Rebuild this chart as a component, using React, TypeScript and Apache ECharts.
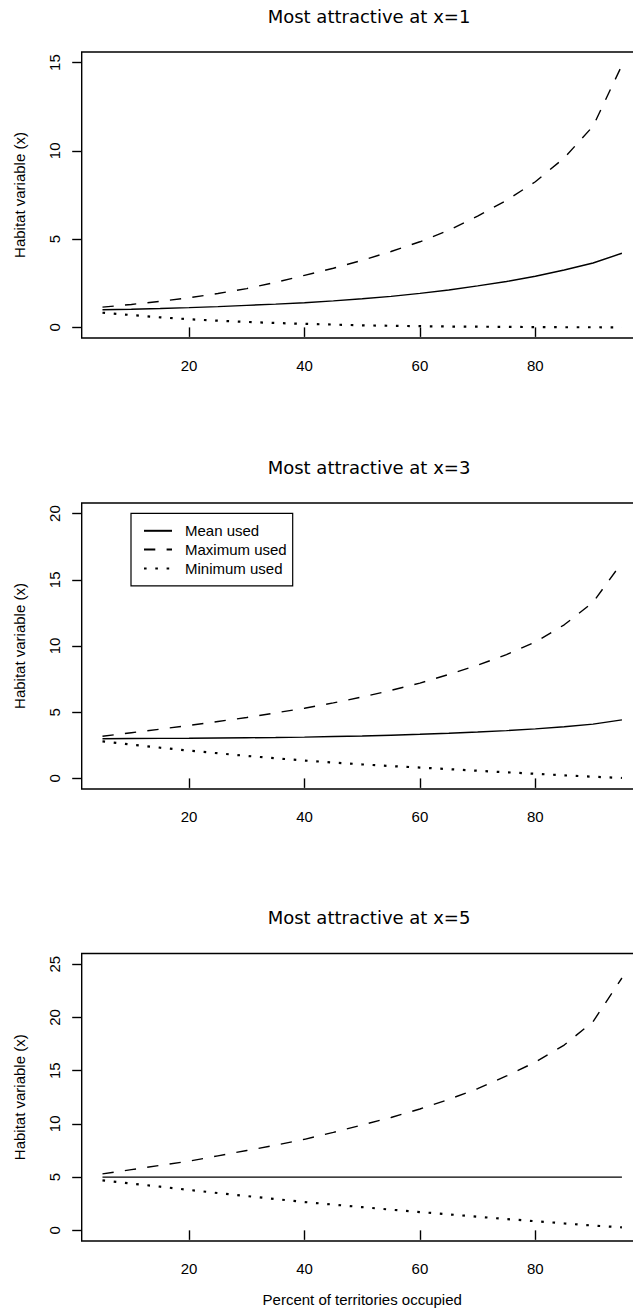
import React, { useEffect, useRef } from "react";
import * as echarts from "echarts";

// Percent of territories occupied (x values)
const percent = [5, 10, 15, 20, 25, 30, 35, 40, 45, 50, 55, 60, 65, 70, 75, 80, 85, 90, 95];

const titles = ["Most attractive at x=1", "Most attractive at x=3", "Most attractive at x=5"];
const seriesNames = ["Mean used", "Maximum used", "Minimum used"];

const xTicks = [20, 40, 60, 80];
const yTicks1 = [0, 5, 10, 15];
const yTicks2 = [0, 5, 10, 15, 20];
const yTicks3 = [0, 5, 10, 15, 20, 25];
const yLimits = [15, 20, 25];

// Panel 1: most attractive at x=1
const mean1 = [1.0, 1.03, 1.07, 1.12, 1.18, 1.25, 1.32, 1.4, 1.5, 1.62, 1.76, 1.93, 2.12, 2.35, 2.6, 2.9, 3.25, 3.65, 4.2];
const max1 = [1.15, 1.3, 1.48, 1.68, 1.92, 2.2, 2.55, 2.95, 3.35, 3.8, 4.3, 4.85, 5.5, 6.3, 7.2, 8.25, 9.6, 11.4, 14.85];
const min1 = [0.83, 0.7, 0.57, 0.46, 0.38, 0.31, 0.25, 0.2, 0.16, 0.12, 0.09, 0.07, 0.05, 0.04, 0.03, 0.02, 0.01, 0.01, 0.0];

// Panel 2: most attractive at x=3
const mean2 = [3.0, 3.01, 3.02, 3.03, 3.05, 3.07, 3.09, 3.12, 3.16, 3.2, 3.26, 3.33, 3.41, 3.5, 3.61, 3.74, 3.9, 4.1, 4.42];
const max2 = [3.18, 3.45, 3.72, 4.0, 4.3, 4.6, 4.95, 5.3, 5.7, 6.15, 6.65, 7.2, 7.85, 8.55, 9.35, 10.3, 11.6, 13.3, 16.3];
const min2 = [2.8, 2.55, 2.32, 2.1, 1.9, 1.7, 1.52, 1.35, 1.2, 1.06, 0.93, 0.82, 0.7, 0.58, 0.46, 0.35, 0.23, 0.13, 0.03];

// Panel 3: most attractive at x=5
const mean3 = [5, 5, 5, 5, 5, 5, 5, 5, 5, 5, 5, 5, 5, 5, 5, 5, 5, 5, 5];
const max3 = [5.3, 5.7, 6.1, 6.5, 7.0, 7.5, 8.0, 8.55, 9.2, 9.9, 10.6, 11.4, 12.3, 13.3, 14.5, 15.8, 17.4, 19.6, 23.7];
const min3 = [4.7, 4.4, 4.1, 3.8, 3.5, 3.22, 2.94, 2.66, 2.42, 2.18, 1.94, 1.72, 1.5, 1.28, 1.06, 0.86, 0.65, 0.45, 0.28];

const panels = [
  { mean: mean1, max: max1, min: min1, yTicks: yTicks1 },
  { mean: mean2, max: max2, min: min2, yTicks: yTicks2 },
  { mean: mean3, max: max3, min: min3, yTicks: yTicks3 },
];

const AXIS_FONT = "'Liberation Sans', Arial, sans-serif";
const TITLE_FONT = "'DejaVu Sans', Verdana, sans-serif";

export default function App() {
  const ref = useRef<HTMLDivElement>(null);

  useEffect(() => {
    if (!ref.current) return;
    const chart = echarts.init(ref.current, null, { renderer: "svg" });

    const tops = [52, 503, 953.5];
    const heights = [286, 286, 287.5];
    const gridLeft = 81.7;
    const gridWidth = 561;

    const lineTypes: any[] = ["solid", [11.3, 11.3], [2.6, 8.7]];
    const lineWidths = [1.4, 1.4, 2.2];

    const series: any[] = [];
    panels.forEach((p, i) => {
      [p.mean, p.max, p.min].forEach((arr, k) => {
        series.push({
          type: "line",
          name: seriesNames[k],
          xAxisIndex: i,
          yAxisIndex: i,
          data: percent.map((x, j) => [x, arr[j]]),
          symbol: "none",
          silent: true,
          lineStyle: { color: "#000", width: lineWidths[k], type: lineTypes[k], cap: "butt" },
          itemStyle: { color: "#000" },
        });
      });
    });

    const option: any = {
      animation: false,
      backgroundColor: "#fff",
      grid: tops.map((t, i) => ({
        left: gridLeft,
        top: t,
        width: gridWidth,
        height: heights[i],
        show: true,
        borderColor: "#000",
        borderWidth: 1.4,
        backgroundColor: "transparent",
      })),
      xAxis: tops.map((_, i) => ({
        type: "value",
        gridIndex: i,
        min: 1.4,
        max: 98.6,
        axisLine: { show: false },
        splitLine: { show: false },
        axisTick: {
          show: true,
          length: 9.5,
          customValues: xTicks,
          lineStyle: { color: "#000", width: 1.4 },
        },
        axisLabel: {
          customValues: xTicks,
          margin: 20,
          color: "#000",
          fontFamily: AXIS_FONT,
          fontSize: 15,
        },
        name: i === 2 ? "Percent of territories occupied" : "",
        nameLocation: "middle",
        nameGap: 51,
        nameTextStyle: { color: "#000", fontFamily: AXIS_FONT, fontSize: 15 },
      })),
      yAxis: tops.map((_, i) => ({
        type: "value",
        gridIndex: i,
        min: -0.04 * yLimits[i],
        max: 1.04 * yLimits[i],
        axisLine: { show: false },
        splitLine: { show: false },
        axisTick: {
          show: true,
          length: 9.5,
          customValues: panels[i].yTicks,
          lineStyle: { color: "#000", width: 1.4 },
        },
        axisLabel: {
          customValues: panels[i].yTicks,
          rotate: 90,
          margin: 20,
          color: "#000",
          fontFamily: AXIS_FONT,
          fontSize: 15,
        },
        name: "Habitat variable (x)",
        nameLocation: "middle",
        nameRotate: 90,
        nameGap: 55,
        nameTextStyle: { color: "#000", fontFamily: AXIS_FONT, fontSize: 15 },
      })),
      legend: {
        show: true,
        orient: "vertical",
        left: 131,
        top: 513.3,
        data: seriesNames,
        itemWidth: 28,
        itemHeight: 14,
        itemGap: 3.8,
        padding: [10, 6, 10, 12],
        borderColor: "#000",
        borderWidth: 1.2,
        backgroundColor: "#fff",
        selectedMode: false,
        itemStyle: { opacity: 0, borderWidth: 0 },
        textStyle: { color: "#000", fontFamily: AXIS_FONT, fontSize: 15, padding: [0, 0, 0, 8] },
      },
      graphic: titles.map((t, i) => ({
        type: "text",
        x: 369,
        y: tops[i] - 36,
        silent: true,
        style: {
          text: t,
          fill: "#000",
          font: `18px ${TITLE_FONT}`,
          textAlign: "center",
          textVerticalAlign: "middle",
        },
      })),
      series,
    };

    chart.setOption(option);
    return () => chart.dispose();
  }, []);

  return (
    <div
      style={{
        position: "fixed",
        left: 0,
        top: 0,
        width: 633,
        height: 1315,
        overflow: "hidden",
        background: "#fff",
      }}
    >
      <div ref={ref} style={{ width: 660, height: 1315 }} />
    </div>
  );
}
